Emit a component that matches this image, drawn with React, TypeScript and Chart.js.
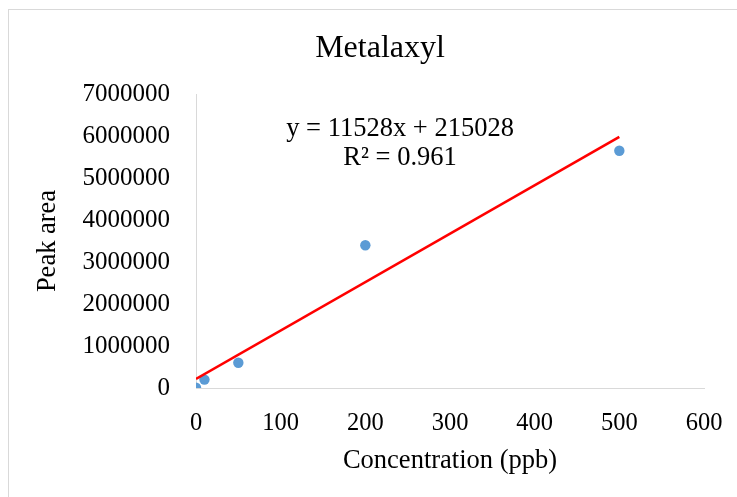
import React, { useEffect, useRef } from "react";
import { Chart, registerables } from "chart.js";

Chart.register(...registerables);

// ---- data ----
const concentrations = [0, 10, 50, 200, 500];
const peakAreas = [10000, 200000, 600000, 3400000, 5650000];

const trendSlope = 11528;
const trendIntercept = 215028;
const trendRange = [0, 500];

const xTicks = [0, 100, 200, 300, 400, 500, 600];
const yTicks = [0, 1000000, 2000000, 3000000, 4000000, 5000000, 6000000, 7000000];

const chartTitle = "Metalaxyl";
const xTitle = "Concentration (ppb)";
const yTitle = "Peak area";
const equationLines = ["y = 11528x + 215028", "R² = 0.961"];
const equationAnchorX = 241;
const equationAnchorY = [6160000, 5480000];

const FONT = '"Liberation Serif", "Times New Roman", serif';

const equationPlugin = {
  id: "equationLabel",
  afterDatasetsDraw(chart: any) {
    const { ctx, scales } = chart;
    const x = scales.x;
    const y = scales.y;
    ctx.save();
    ctx.font = `26.5px ${FONT}`;
    ctx.fillStyle = "#000000";
    ctx.textAlign = "center";
    ctx.textBaseline = "middle";
    equationLines.forEach((t, i) => {
      ctx.fillText(t, x.getPixelForValue(equationAnchorX), y.getPixelForValue(equationAnchorY[i]));
    });
    ctx.restore();
  },
};

const titlePlugin = {
  id: "offsetTitle",
  afterDraw(chart: any) {
    const { ctx } = chart;
    ctx.save();
    ctx.font = `32px ${FONT}`;
    ctx.fillStyle = "#000000";
    ctx.textAlign = "center";
    ctx.textBaseline = "middle";
    ctx.fillText(chartTitle, 380, 49);
    ctx.restore();
  },
};

export default function App() {
  const canvasRef = useRef<HTMLCanvasElement | null>(null);

  useEffect(() => {
    const canvas = canvasRef.current;
    if (!canvas) return;
    const scatterData = concentrations.map((c, i) => ({ x: c, y: peakAreas[i] }));
    const trendData = trendRange.map((c) => ({ x: c, y: trendSlope * c + trendIntercept }));

    const chart = new Chart(canvas, {
      type: "scatter",
      data: {
        datasets: [
          {
            label: "Trend",
            data: trendData,
            showLine: true,
            borderColor: "#ff0000",
            borderWidth: 2.6,
            pointRadius: 0,
            pointHoverRadius: 0,
            order: 0,
          },
          {
            label: "Peak area",
            data: scatterData,
            backgroundColor: "#5b9bd5",
            borderColor: "#5b9bd5",
            borderWidth: 0,
            pointRadius: 5.2,
            order: 1,
          },
        ],
      },
      options: {
        responsive: false,
        animation: false,
        devicePixelRatio: 1,
        layout: { padding: { left: 0, right: 33, top: 94, bottom: 0 } },
        plugins: {
          legend: { display: false },
          tooltip: { enabled: false },
          title: { display: false },
        },
        scales: {
          x: {
            type: "linear",
            min: 0,
            max: 600,
            afterBuildTicks: (scale: any) => {
              scale.ticks = xTicks.map((v) => ({ value: v }));
            },
            afterFit: (scale: any) => {
              scale.height = 109;
              scale.paddingLeft = 0;
              scale.paddingRight = 0;
            },
            ticks: {
              color: "#000000",
              font: { family: FONT, size: 24.5 },
              padding: 21,
              maxRotation: 0,
              callback: (v: any) => String(v),
            },
            grid: { display: true, color: "rgba(0,0,0,0)", drawTicks: false },
            border: { display: true, color: "#d9d9d9", width: 1 },
            title: {
              display: true,
              text: xTitle,
              color: "#000000",
              font: { family: FONT, size: 26.5 },
              padding: { top: 0, bottom: 20 },
            },
          },
          y: {
            type: "linear",
            min: 0,
            max: 7000000,
            afterBuildTicks: (scale: any) => {
              scale.ticks = yTicks.map((v) => ({ value: v }));
            },
            afterFit: (scale: any) => {
              scale.width = 196;
            },
            ticks: {
              color: "#000000",
              font: { family: FONT, size: 25 },
              padding: 26,
              callback: (v: any) => String(v),
            },
            grid: { display: true, color: "rgba(0,0,0,0)", drawTicks: false },
            border: { display: true, color: "#d9d9d9", width: 1 },
            title: {
              display: true,
              text: yTitle,
              color: "#000000",
              font: { family: FONT, size: 26.5 },
              padding: { top: 32, bottom: 0 },
            },
          },
        },
      },
      plugins: [equationPlugin, titlePlugin],
    } as any);

    return () => chart.destroy();
  }, []);

  return (
    <div
      style={{
        position: "absolute",
        left: 0,
        top: 0,
        width: 737,
        height: 497,
        overflow: "hidden",
        background: "#ffffff",
      }}
    >
      <div
        style={{
          position: "absolute",
          left: 8,
          top: 9,
          width: 800,
          height: 600,
          border: "1px solid #d9d9d9",
          boxSizing: "border-box",
        }}
      />
      <canvas
        ref={canvasRef}
        width={737}
        height={497}
        style={{ position: "absolute", left: 0, top: 0 }}
      />
    </div>
  );
}
